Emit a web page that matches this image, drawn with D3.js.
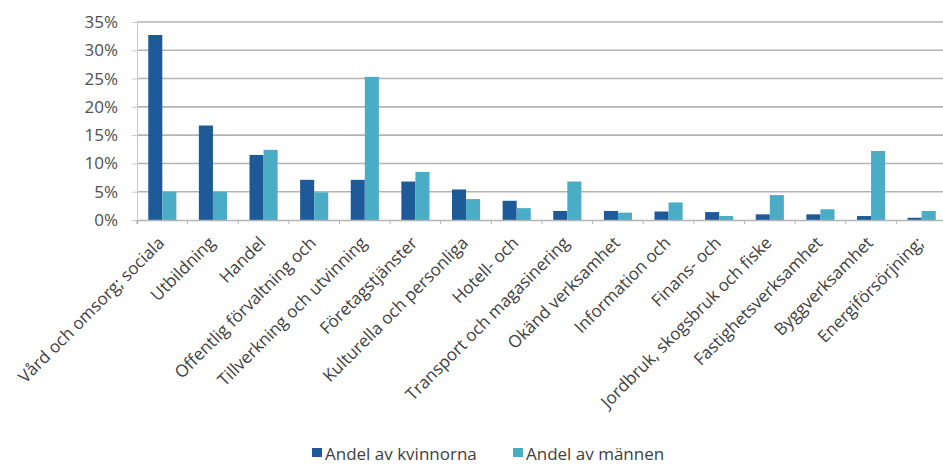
<!DOCTYPE html>
<html>
<head>
<meta charset="utf-8">
<script src="https://cdnjs.cloudflare.com/ajax/libs/d3/7.8.5/d3.min.js"></script>
<style>
  body { margin: 0; background: #fff; }
  svg { display: block; font-family: "Open Sans", sans-serif; }
</style>
</head>
<body>
<svg id="chart"></svg>
<script>
"use strict";

const categories = [
  "Vård och omsorg; sociala",
  "Utbildning",
  "Handel",
  "Offentlig förvaltning och",
  "Tillverkning och utvinning",
  "Företagstjänster",
  "Kulturella och personliga",
  "Hotell- och",
  "Transport och magasinering",
  "Okänd verksamhet",
  "Information och",
  "Finans- och",
  "Jordbruk, skogsbruk och fiske",
  "Fastighetsverksamhet",
  "Byggverksamhet",
  "Energiförsörjning;"
];
const women = [32.7, 16.7, 11.5, 7.1, 7.1, 6.8, 5.4, 3.4, 1.6, 1.6, 1.5, 1.4, 1.0, 1.0, 0.7, 0.4];
const men = [5.0, 5.0, 12.4, 4.9, 25.3, 8.5, 3.7, 2.1, 6.8, 1.3, 3.1, 0.7, 4.4, 1.9, 12.2, 1.6];
const seriesNames = ["Andel av kvinnorna", "Andel av männen"];
const yTicks = [0, 5, 10, 15, 20, 25, 30, 35];

const width = 943;
const height = 466;
const plotLeft = 137;
const plotRight = 947;
const plotTop = 22;
const plotBottom = 220;
const colors = ["#1f5a98", "#4bacc6"];

const svg = d3.select("#chart").attr("width", width).attr("height", height);

const xScale = d3.scaleBand().domain(categories).range([plotLeft, plotRight]);
const subScale = d3
  .scaleBand()
  .domain([0, 1])
  .range([0, xScale.bandwidth()])
  .paddingInner(0)
  .paddingOuter(0.8);
const yScale = d3.scaleLinear().domain([0, 35]).range([plotBottom, plotTop]);

// gridlines
svg
  .append("g")
  .selectAll("line")
  .data(yTicks.filter((t) => t > 0))
  .enter()
  .append("line")
  .attr("x1", plotLeft)
  .attr("x2", plotRight)
  .attr("y1", (d) => yScale(d))
  .attr("y2", (d) => yScale(d))
  .attr("stroke", "#b4b4b4")
  .attr("stroke-width", 1.6);

// y axis
const yAxis = d3
  .axisLeft(yScale)
  .tickValues(yTicks)
  .tickSize(5)
  .tickFormat((d) => d + "%");
const yG = svg.append("g").attr("transform", `translate(${plotLeft},0)`).call(yAxis);
yG.select(".domain").attr("stroke", "#c8c8c8");
yG.selectAll(".tick line").attr("stroke", "#c8c8c8");
yG.selectAll(".tick text")
  .attr("x", -19)
  .attr("font-size", 17)
  .attr("fill", "#505050")
  .attr("font-family", "Open Sans, sans-serif");

// bars
const groups = svg
  .append("g")
  .selectAll("g")
  .data(categories)
  .enter()
  .append("g")
  .attr("transform", (d) => `translate(${xScale(d)},0)`);

groups
  .selectAll("rect")
  .data((d, i) => [women[i], men[i]])
  .enter()
  .append("rect")
  .attr("x", (d, j) => subScale(j))
  .attr("width", subScale.bandwidth())
  .attr("y", (d) => yScale(d))
  .attr("height", (d) => plotBottom - yScale(d))
  .attr("fill", (d, j) => colors[j]);

// x axis
const xAxis = d3.axisBottom(xScale).tickSize(4).tickFormat("");
const xG = svg.append("g").attr("transform", `translate(0,${plotBottom})`).call(xAxis);
xG.select(".domain").attr("stroke", "#b4b4b4").attr("stroke-width", 1.5);
xG.selectAll(".tick line")
  .attr("stroke", "#b4b4b4")
  .attr("transform", `translate(${-xScale.bandwidth() / 2},0)`);

// category labels
svg
  .append("g")
  .selectAll("text")
  .data(categories)
  .enter()
  .append("text")
  .attr(
    "transform",
    (d) => `translate(${xScale(d) + xScale.bandwidth() / 2 + 3},${plotBottom + 24}) rotate(-45)`
  )
  .attr("text-anchor", "end")
  .attr("font-size", 17)
  .attr("fill", "#404040")
  .text((d) => d);

// legend
const legendX = [312, 513];
const legend = svg
  .append("g")
  .selectAll("g")
  .data(seriesNames)
  .enter()
  .append("g")
  .attr("transform", (d, i) => `translate(${legendX[i]},448)`);
legend
  .append("rect")
  .attr("width", 10)
  .attr("height", 9)
  .attr("fill", (d, i) => colors[i]);
legend
  .append("text")
  .attr("x", 13)
  .attr("y", 12)
  .attr("font-size", 17)
  .attr("fill", "#404040")
  .text((d) => d);
</script>
</body>
</html>
